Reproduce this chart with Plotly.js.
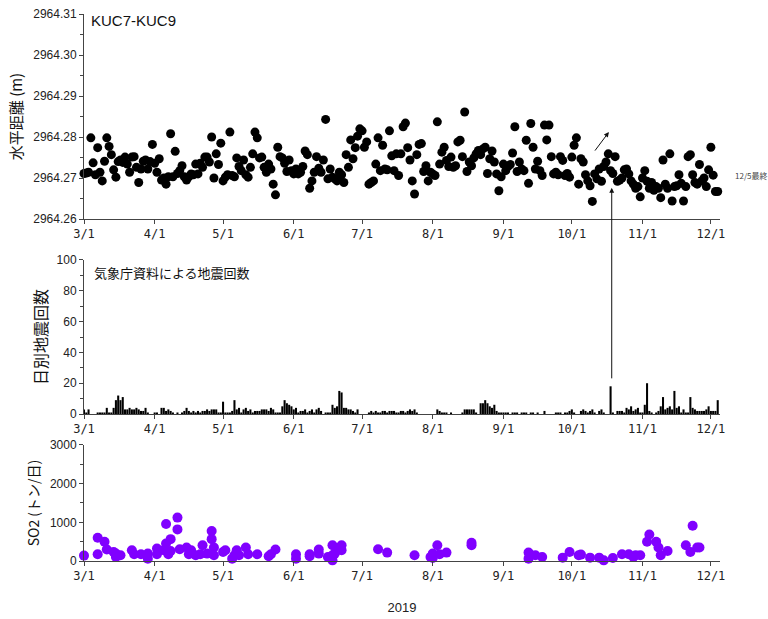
<!DOCTYPE html>
<html>
<head>
<meta charset="utf-8">
<script src="https://cdn.plot.ly/plotly-3.0.1.min.js"></script>
<style>html,body{margin:0;padding:0;background:#fff;}#chart{width:768px;height:619px;}</style>
</head>
<body>
<div id="chart"></div>
<script>
// ---- data ----
const startDate = '2019-03-01';
const monthTicks = ['2019-03-01','2019-04-01','2019-05-01','2019-06-01','2019-07-01','2019-08-01','2019-09-01','2019-10-01','2019-11-01','2019-12-01'];
const monthLabels = ['3/1','4/1','5/1','6/1','7/1','8/1','9/1','10/1','11/1','12/1'];

// daily horizontal distance KUC7-KUC9 (m), from 3/1
const distance = [
2964.2711,2964.2712,2964.2714,2964.2798,2964.2737,2964.2708,2964.2774,2964.2714,2964.2693,2964.2741,
2964.2798,2964.2777,2964.2757,2964.2720,2964.2702,2964.2740,2964.2744,2964.2738,2964.2751,2964.2734,
2964.2714,2964.2751,2964.2752,2964.2726,2964.2689,2964.2722,2964.2741,2964.2744,2964.2722,2964.2740,
2964.2782,2964.2736,2964.2714,2964.2747,2964.2695,2964.2700,2964.2685,2964.2703,2964.2808,2964.2703,
2964.2765,2964.2711,2964.2718,2964.2730,2964.2703,2964.2695,2964.2703,2964.2710,2964.2708,2964.2734,
2964.2710,2964.2736,2964.2726,2964.2751,2964.2751,2964.2739,2964.2800,2964.2700,2964.2759,2964.2733,
2964.2785,2964.2693,2964.2702,2964.2708,2964.2812,2964.2706,2964.2703,2964.2749,2964.2728,2964.2718,
2964.2744,2964.2708,2964.2702,2964.2726,2964.2759,2964.2812,2964.2798,2964.2749,2964.2751,2964.2726,
2964.2714,2964.2734,2964.2722,2964.2685,2964.2659,2964.2775,2964.2752,2964.2749,2964.2736,2964.2716,
2964.2744,2964.2718,2964.2710,2964.2722,2964.2710,2964.2714,2964.2728,2964.2766,2964.2757,2964.2675,
2964.2693,2964.2714,2964.2752,2964.2724,2964.2714,2964.2744,2964.2843,2964.2698,2964.2722,2964.2702,
2964.2698,2964.2693,2964.2714,2964.2708,2964.2689,2964.2757,2964.2726,2964.2793,2964.2747,2964.2774,
2964.2802,2964.2820,2964.2815,2964.2775,2964.2788,2964.2685,2964.2689,2964.2693,2964.2734,2964.2798,
2964.2718,2964.2780,2964.2722,2964.2720,2964.2815,2964.2754,2964.2718,2964.2759,2964.2706,2964.2759,
2964.2825,2964.2834,2964.2774,2964.2744,2964.2693,2964.2661,2964.2757,2964.2782,2964.2784,2964.2716,
2964.2730,2964.2693,2964.2714,2964.2710,2964.2706,2964.2837,2964.2734,2964.2763,2964.2775,2964.2743,
2964.2728,2964.2751,2964.2726,2964.2730,2964.2788,2964.2792,2964.2752,2964.2861,2964.2716,2964.2739,
2964.2730,2964.2749,2964.2759,2964.2767,2964.2757,2964.2771,2964.2775,2964.2711,2964.2747,2964.2766,
2964.2739,2964.2710,2964.2669,2964.2703,2964.2734,2964.2718,2964.2728,2964.2733,2964.2761,2964.2825,
2964.2716,2964.2739,2964.2722,2964.2718,2964.2792,2964.2687,2964.2833,2964.2775,2964.2722,2964.2741,
2964.2718,2964.2706,2964.2829,2964.2793,2964.2829,2964.2752,2964.2710,2964.2714,2964.2708,2964.2752,
2964.2743,2964.2706,2964.2711,2964.2702,2964.2751,2964.2780,2964.2798,2964.2685,2964.2747,2964.2739,
2964.2708,2964.2693,2964.2681,2964.2643,2964.2710,2964.2698,2964.2722,2964.2692,2964.2728,2964.2739,
2964.2759,2964.2718,2964.2711,2964.2752,2964.2692,2964.2695,2964.2700,2964.2720,2964.2722,2964.2710,
2964.2693,2964.2685,2964.2675,2964.2679,2964.2654,2964.2700,2964.2718,2964.2692,2964.2675,2964.2689,
2964.2670,2964.2679,2964.2675,2964.2652,2964.2744,2964.2685,2964.2675,2964.2759,2964.2644,2964.2679,
2964.2681,2964.2708,2964.2687,2964.2644,2964.2679,2964.2752,2964.2757,2964.2708,2964.2689,2964.2685,
2964.2733,2964.2693,2964.2700,2964.2679,2964.2720,2964.2775,2964.2707,2964.2667,2964.2667
];

// daily earthquake counts (JMA), from 3/1
const quakes = [
3,1,3,0,0,0,1,1,1,1, 4,1,1,4,9,12,9,11,3,3, 4,3,3,4,3,2,2,4,1,0,
0,1,1,0,4,4,2,3,2,1, 0,1,0,1,2,4,2,1,2,1, 2,1,2,2,3,2,3,3,3,1,
1,8,1,1,1,2,9,3,4,1, 3,4,2,3,1,2,2,2,3,3, 3,2,4,3,1,1,1,5,9,7,
6,5,3,4,1,2,2,3,1,2, 3,1,3,4,2,0,1,1,1,6, 4,5,15,14,4,4,3,3,2,1,
3,0,0,0,0,1,2,1,2,1, 1,2,2,1,2,2,2,1,1,2, 2,1,2,3,2,3,1,0,0,0,
0,0,0,0,0,3,2,1,1,1, 0,1,0,0,0,0,1,3,3,3, 3,3,1,0,7,7,9,7,5,4,
6,2,1,1,1,1,1,0,1,1, 1,0,1,1,1,0,1,1,0,1, 0,0,2,0,0,0,0,1,1,1,
0,1,1,2,3,1,0,0,2,3, 2,1,2,3,1,0,2,3,1,0, 0,18,1,0,2,2,2,1,4,3,
5,2,3,4,1,1,6,20,2,1, 0,1,2,5,11,3,4,5,3,15, 4,5,1,3,1,1,11,4,3,2,
2,2,2,3,5,2,2,2,9
];

// SO2 emission (t/day)
const so2Dates = [
'2019-03-01','2019-03-07','2019-03-07','2019-03-10','2019-03-11','2019-03-14','2019-03-15','2019-03-15','2019-03-17','2019-03-22',
'2019-03-23','2019-03-26','2019-03-29','2019-03-29','2019-04-02','2019-04-02','2019-04-05','2019-04-06','2019-04-06','2019-04-07',
'2019-04-08','2019-04-08','2019-04-11','2019-04-11','2019-04-12','2019-04-15','2019-04-16','2019-04-17','2019-04-19','2019-04-21',
'2019-04-22','2019-04-24','2019-04-26','2019-04-26','2019-04-27','2019-04-27','2019-05-01','2019-05-02','2019-05-05','2019-05-06',
'2019-05-07','2019-05-08','2019-05-11','2019-05-12','2019-05-16','2019-05-21','2019-05-22','2019-05-24','2019-06-02','2019-06-02',
'2019-06-08','2019-06-08','2019-06-12','2019-06-12','2019-06-16','2019-06-18','2019-06-18','2019-06-18','2019-06-19','2019-06-20',
'2019-06-22','2019-06-22','2019-07-08','2019-07-12','2019-07-24','2019-07-31','2019-08-01','2019-08-01','2019-08-03','2019-08-04',
'2019-08-07','2019-08-18','2019-08-18','2019-09-12','2019-09-12','2019-09-15','2019-09-18','2019-09-27','2019-09-30','2019-10-04',
'2019-10-05','2019-10-09','2019-10-13','2019-10-15','2019-10-19','2019-10-23','2019-10-26','2019-10-28','2019-10-29','2019-10-31',
'2019-11-03','2019-11-04','2019-11-07','2019-11-08','2019-11-09','2019-11-12','2019-11-20','2019-11-22','2019-11-23','2019-11-25',
'2019-11-26'
];
const so2Values = [
139,600,174,496,296,235,104,191,148,278,
174,174,61,191,322,174,278,957,452,174,
565,261,1122,817,304,348,174,278,148,174,
409,191,774,565,348,148,235,278,61,148,
278,148,348,174,174,122,174,296,174,61,
174,122,296,191,104,409,148,17,191,278,
409,278,304,217,148,104,191,78,409,174,
217,470,409,217,61,148,104,87,235,148,
165,87,87,17,78,174,174,104,148,148,
496,687,496,348,148,261,409,235,913,348,
348
];

// ---- build daily dates ----
const dayDates = [];
(function(){
  const d0 = new Date(startDate + 'T00:00:00Z');
  const n = Math.max(distance.length, quakes.length);
  for (let i = 0; i < n; i++) {
    const d = new Date(d0.getTime() + i * 86400000);
    dayDates.push(d.toISOString().slice(0,10));
  }
})();

const xRange = ['2019-03-01', '2019-12-05'];
const axisColor = '#444';
const tickFont = {family: 'DejaVu Sans Mono, monospace', size: 12, color: '#222'};
const yTickFont = {family: 'Liberation Sans, Arial, sans-serif', size: 12, color: '#222'};
const titleFont = {family: 'Noto Sans CJK JP, sans-serif', size: 15, color: '#111'};

function xAxis(anchor) {
  return {
    anchor: anchor, type: 'date', range: xRange,
    tickvals: monthTicks, ticktext: monthLabels,
    ticks: 'outside', ticklen: 4, tickcolor: axisColor, tickfont: tickFont,
    showline: true, linecolor: axisColor, linewidth: 1,
    showgrid: false, zeroline: false, fixedrange: true
  };
}

const traces = [
  {
    type: 'scatter', mode: 'markers', x: dayDates.slice(0, distance.length), y: distance,
    xaxis: 'x', yaxis: 'y', cliponaxis: false,
    marker: {color: '#000', size: 9}, hoverinfo: 'skip'
  },
  {
    type: 'bar', x: dayDates.slice(0, quakes.length), y: quakes,
    xaxis: 'x2', yaxis: 'y2', width: 0.9 * 86400000,
    marker: {color: '#000', line: {width: 0}}, hoverinfo: 'skip'
  },
  {
    type: 'scatter', mode: 'markers', x: so2Dates, y: so2Values,
    xaxis: 'x3', yaxis: 'y3', cliponaxis: false,
    marker: {color: '#8000ff', size: 10}, hoverinfo: 'skip'
  }
];

const x3 = xAxis('y3');
x3.title = {text: '2019', font: {family: 'Liberation Sans, Arial, sans-serif', size: 13, color: '#222'}, standoff: 20};

const layout = {
  width: 768, height: 619,
  margin: {l: 84, r: 48, t: 14, b: 58},
  paper_bgcolor: '#fff', plot_bgcolor: '#fff',
  showlegend: false,
  font: {family: 'Liberation Sans, Arial, sans-serif', color: '#222'},
  xaxis: xAxis('y'),
  xaxis2: xAxis('y2'),
  xaxis3: x3,
  yaxis: {
    domain: [0.6252, 1], range: [2964.26, 2964.31], dtick: 0.01, tick0: 2964.26, tickformat: '.2f',
    ticks: 'outside', ticklen: 4, tickcolor: axisColor, tickfont: yTickFont,
    minor: {dtick: 0.005, ticks: 'outside', ticklen: 3, tickcolor: axisColor},
    showline: true, linecolor: axisColor, showgrid: false, zeroline: false,
    title: {text: '水平距離 (m)', font: titleFont, standoff: 6}
  },
  yaxis2: {
    domain: [0.2687, 0.5503], range: [0, 100], dtick: 20,
    ticks: 'outside', ticklen: 4, tickcolor: axisColor, tickfont: yTickFont,
    minor: {dtick: 10, ticks: 'outside', ticklen: 3, tickcolor: axisColor},
    showline: true, linecolor: axisColor, showgrid: false, zeroline: false,
    title: {text: '日別地震回数', font: {family: 'Noto Sans CJK JP, sans-serif', size: 16, color: '#111'}, standoff: 4}
  },
  yaxis3: {
    domain: [0, 0.2121], range: [0, 3000], dtick: 1000,
    ticks: 'outside', ticklen: 4, tickcolor: axisColor, tickfont: yTickFont,
    minor: {dtick: 500, ticks: 'outside', ticklen: 3, tickcolor: axisColor},
    showline: true, linecolor: axisColor, showgrid: false, zeroline: false,
    title: {text: 'SO2 (トン/日)', font: {family: 'Noto Sans CJK JP, sans-serif', size: 14, color: '#111'}, standoff: 6}
  },
  annotations: [
    {xref: 'paper', yref: 'paper', x: 0.008, y: 1.0, yshift: 4, xanchor: 'left', yanchor: 'top',
     text: 'KUC7-KUC9', showarrow: false, font: {family: 'Liberation Sans, Arial, sans-serif', size: 15, color: '#111'}},
    {xref: 'x2 domain', yref: 'y2 domain', x: 0.012, y: 0.995, xanchor: 'left', yanchor: 'top',
     text: '気象庁資料による地震回数', showarrow: false, font: {family: 'Noto Sans CJK JP, sans-serif', size: 13, color: '#111'}},
    {xref: 'paper', yref: 'y', x: 1.02, y: 2964.2707, xanchor: 'left', yanchor: 'middle',
     text: '12/5最終', showarrow: false, font: {family: 'Noto Sans CJK JP, sans-serif', size: 8, color: '#444'}},
    {xref: 'x', yref: 'y', x: '2019-10-18 12:00', y: 2964.2676, ax: 0, ay: 192,
     text: '', showarrow: true, arrowhead: 2, arrowsize: 1, arrowwidth: 1, arrowcolor: '#111', standoff: 0, startstandoff: 0},
    {xref: 'x', yref: 'y', x: '2019-10-17 06:00', y: 2964.2812, ax: -15, ay: 20,
     text: '', showarrow: true, arrowhead: 2, arrowsize: 1, arrowwidth: 1, arrowcolor: '#111', standoff: 0, startstandoff: 0}
  ]
};

Plotly.newPlot('chart', traces, layout, {staticPlot: true, displayModeBar: false});
</script>
</body>
</html>
